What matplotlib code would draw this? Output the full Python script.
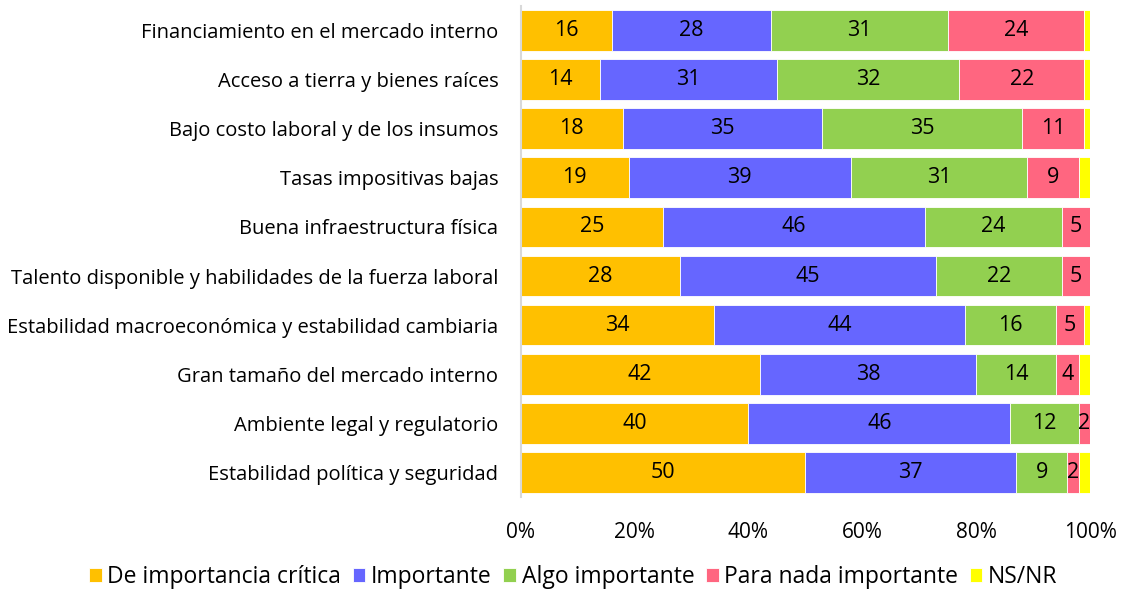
import numpy as np
import matplotlib.pyplot as plt

plt.rcParams['font.family'] = ['Open Sans', 'DejaVu Sans']

categorias = [
    'Financiamiento en el mercado interno',
    'Acceso a tierra y bienes raíces',
    'Bajo costo laboral y de los insumos',
    'Tasas impositivas bajas',
    'Buena infraestructura física',
    'Talento disponible y habilidades de la fuerza laboral',
    'Estabilidad macroeconómica y estabilidad cambiaria',
    'Gran tamaño del mercado interno',
    'Ambiente legal y regulatorio',
    'Estabilidad política y seguridad',
]
critica = [16, 14, 18, 19, 25, 28, 34, 42, 40, 50]
importante = [28, 31, 35, 39, 46, 45, 44, 38, 46, 37]
algo = [31, 32, 35, 31, 24, 22, 16, 14, 12, 9]
nada = [24, 22, 11, 9, 5, 5, 5, 4, 2, 2]
nsnr = [1, 1, 1, 2, 0, 0, 1, 2, 0, 2]

series = [
    ('De importancia crítica', critica, '#FFC000', True),
    ('Importante', importante, '#6666FF', True),
    ('Algo importante', algo, '#92D050', True),
    ('Para nada importante', nada, '#FF6680', True),
    ('NS/NR', nsnr, '#FFFF00', False),
]

fig = plt.figure(figsize=(11.22, 5.98), dpi=100)
ax = fig.add_axes([0.464, 0.169, 0.5075, 0.821])

y = np.arange(len(categorias))
left = np.zeros(len(categorias))
for nombre, vals, color, etiqueta in series:
    vals = np.array(vals, dtype=float)
    ax.barh(y, vals, left=left, height=0.83, color=color,
            edgecolor='white', linewidth=0.6, label=nombre)
    if etiqueta:
        for xi, yi, v in zip(left, y, vals):
            if v > 0:
                ax.text(xi + v / 2, yi, f'{int(v)}', ha='center', va='center',
                        fontsize=15.5, color='black')
    left += vals

ax.set_xlim(0, 100)
ax.set_ylim(len(categorias) - 0.5, -0.5)
ax.set_yticks(y)
ax.set_yticklabels(categorias, fontsize=14.5)
ax.set_xticks(np.arange(0, 101, 20))
ax.set_xticklabels([f'{v}%' for v in range(0, 101, 20)], fontsize=15)
ax.tick_params(axis='y', length=0, pad=16)
ax.tick_params(axis='x', length=0, pad=18)
for s in ['top', 'right', 'bottom']:
    ax.spines[s].set_visible(False)
ax.spines['left'].set_color('#D9D9D9')
ax.spines['left'].set_linewidth(1.5)

fig.legend(loc='lower center', bbox_to_anchor=(0.511, -0.02), ncol=5,
           frameon=False, fontsize=16.5, handlelength=0.55, handleheight=0.55,
           handletextpad=0.25, columnspacing=0.5)

fig.savefig('out.png', dpi=100)
